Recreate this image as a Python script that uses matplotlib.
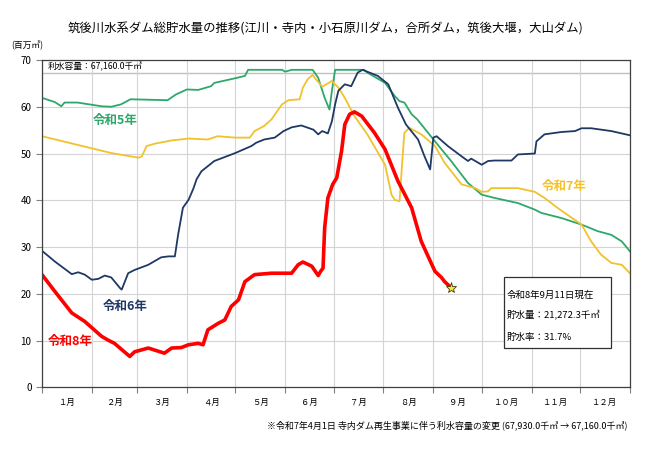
import matplotlib
matplotlib.use('Agg')
import matplotlib.pyplot as plt
from matplotlib.patches import Rectangle

plt.rcParams['font.family'] = ['Noto Sans CJK JP', 'DejaVu Sans']

# 日付は1月1日からの通算日
r5_days = [0, 8, 12, 14, 22, 37, 43, 49, 55, 78, 83, 90, 97, 105, 107, 120, 126, 128, 149, 151, 155, 168,
           171.5, 175.5, 178.5, 180, 182, 200, 202, 213, 219, 222, 225, 229.5, 233, 244, 254, 264.5, 273, 281,
           295.5, 306, 310, 322.5, 335, 345, 353.5, 360, 365]
r5_vals = [61.9, 61.0, 60.1, 60.9, 60.9, 60.1, 60.0, 60.5, 61.6, 61.4, 62.6, 63.7, 63.6, 64.4, 65.1, 66.1, 66.6,
           67.9, 67.9, 67.5, 67.9, 67.9, 66.2, 61.9, 59.4, 63.4, 67.9, 67.9, 67.3, 65.1, 62.3, 61.2, 60.9, 58.4,
           57.3, 52.6, 48.4, 43.7, 41.2, 40.5, 39.4, 38.0, 37.3, 36.2, 34.8, 33.4, 32.6, 31.2, 29.1]

r6_days = [0, 8, 18.5, 22.5, 26.5, 31, 35, 39, 43, 48.5, 49.5, 53.5, 57.5, 66, 74, 78.5, 82.5, 84.5, 87.5, 91,
           94, 96, 99, 107, 120, 130, 133, 138, 144.5, 150, 155, 161, 168.5, 171.5, 174, 177.5, 180, 182, 184,
           188, 192, 196, 199, 208.5, 215, 221, 226, 233.5, 237.5, 241, 243, 245, 252, 260.5, 264.5, 266.5,
           273, 277, 281, 291.5, 295.5, 306, 307, 312, 322.5, 331, 335, 341, 353.5, 365]
r6_vals = [29.2, 26.9, 24.2, 24.6, 24.1, 23.0, 23.2, 23.9, 23.5, 21.2, 20.9, 24.4, 25.1, 26.2, 27.8, 28.0, 28.0,
           32.6, 38.4, 40.1, 42.5, 44.5, 46.2, 48.4, 50.1, 51.6, 52.3, 53.0, 53.4, 54.8, 55.6, 56.0, 55.1, 54.1,
           54.8, 54.3, 56.9, 60.5, 63.4, 64.8, 64.4, 67.3, 67.9, 66.6, 64.8, 59.8, 56.2, 53.0, 49.4, 46.6, 53.4,
           53.7, 51.6, 49.4, 48.4, 48.9, 47.6, 48.4, 48.5, 48.5, 49.8, 50.0, 52.6, 54.1, 54.6, 54.8, 55.4, 55.4,
           54.8, 53.9]

r7_days = [0, 31, 43, 60, 62, 65, 70, 80.5, 91, 103, 109, 120, 129, 132, 138, 142.5, 149, 153, 160, 162, 165,
           168, 171, 174, 180, 184, 188, 194, 202, 213, 217, 219, 222, 224, 225, 228, 235.5, 244, 250, 260.5,
           269, 273, 277, 279, 295.5, 306, 312, 320, 335, 341, 347, 353.5, 360, 365]
r7_vals = [53.7, 51.1, 50.1, 49.1, 49.4, 51.6, 52.1, 52.8, 53.2, 53.0, 53.7, 53.4, 53.4, 54.8, 55.9, 57.3, 60.5,
           61.4, 61.6, 64.1, 65.9, 66.8, 65.5, 64.3, 65.5, 64.1, 61.9, 58.0, 54.1, 47.6, 41.2, 40.1, 39.8, 49.8,
           54.4, 55.5, 54.1, 51.6, 48.0, 43.4, 42.6, 41.8, 41.9, 42.6, 42.6, 41.8, 40.5, 38.4, 34.8, 31.2, 28.4,
           26.6, 26.2, 24.4]

r8_days = [0, 8, 18.5, 26.5, 37, 41, 45, 54.5, 57.5, 66, 76, 80.5, 86.5, 91, 97, 100, 103, 109.5, 113.5, 117.5,
           122, 126, 132, 142.5, 155, 159, 162, 167.5, 171.5, 173, 174.5, 175.5, 177.5, 180.5, 183, 186, 188,
           191, 194, 198.5, 206.5, 213, 221, 229.5, 235.5, 244, 248, 250, 254]
r8_vals = [24.1, 20.5, 15.9, 14.1, 10.9, 10.1, 9.4, 6.6, 7.6, 8.4, 7.3, 8.4, 8.5, 9.1, 9.4, 9.1, 12.3, 13.7,
           14.4, 17.3, 18.7, 22.6, 24.1, 24.4, 24.4, 26.2, 26.8, 25.9, 23.9, 24.8, 25.5, 34.1, 40.5, 43.4, 44.8,
           50.5, 56.2, 58.4, 58.9, 58.0, 54.4, 50.9, 44.1, 38.4, 31.2, 24.8, 23.5, 22.6, 21.3]

month_starts = [0, 31, 59, 90, 120, 151, 181, 212, 243, 273, 304, 334, 365]
month_labels = ['１月', '２月', '３月', '４月', '５月', '６月', '７月', '８月', '９月', '１０月', '１１月', '１２月']
capacity = 67.16

fig = plt.figure(figsize=(6.5, 4.75), dpi=100)
ax = fig.add_axes([0.0646, 0.1846, 0.9044, 0.6891])

ax.plot(r5_days, r5_vals, color='#2ea86a', lw=1.3)
ax.plot(r7_days, r7_vals, color='#f2c12e', lw=1.3)
ax.plot(r6_days, r6_vals, color='#1f3864', lw=1.3)
ax.plot(r8_days, r8_vals, color='#ff0000', lw=2.6)
ax.plot(r8_days[-1], r8_vals[-1], marker='*', ms=8, mfc='#f5e642', mec='#404000', mew=0.6)

ax.axhline(capacity, color='#c0c0c0', lw=1.0, zorder=0)
ax.text(3.5, 68.6, '利水容量：67,160.0千㎥', fontsize=6.3, va='center', ha='left')

ax.set_xlim(0, 365)
ax.set_ylim(0, 70)
ax.set_yticks(range(0, 71, 10))
ax.set_xticks(month_starts)
ax.set_xticklabels([])
mids = [(month_starts[i] + month_starts[i + 1]) / 2 for i in range(12)]
ax.set_xticks(mids, minor=True)
ax.set_xticklabels(month_labels, minor=True, fontsize=6)
ax.tick_params(axis='x', which='minor', length=0, pad=8)
ax.tick_params(axis='x', which='major', length=4, color='#808080')
ax.tick_params(axis='y', labelsize=7, length=4, color='#808080')
ax.grid(True, which='major', color='#d4d4d4', lw=0.8)
ax.set_axisbelow(True)
for s in ax.spines.values():
    s.set_color('#404040')
    s.set_linewidth(0.9)

ax.text(45.3, 57.0, '令和5年', color='#2ea86a', fontsize=9, fontweight='bold', ha='center', va='center')
ax.text(51.5, 17.2, '令和6年', color='#1f3864', fontsize=9, fontweight='bold', ha='center', va='center')
ax.text(17.4, 9.7, '令和8年', color='#ff0000', fontsize=9, fontweight='bold', ha='center', va='center')
ax.text(324.4, 43.0, '令和7年', color='#f2c12e', fontsize=9, fontweight='bold', ha='center', va='center')

ax.add_patch(Rectangle((287, 8.4), 66.6, 15.2, facecolor='white', edgecolor='#303030', lw=0.9, zorder=5))
ax.text(288.5, 19.8, '令和8年9月11日現在', fontsize=6.8, va='center', zorder=6)
ax.text(288.5, 15.3, '貯水量：21,272.3千㎥', fontsize=6.8, va='center', zorder=6)
ax.text(288.5, 10.7, '貯水率：31.7%', fontsize=6.8, va='center', zorder=6)

fig.text(0.5, 0.94, '筑後川水系ダム総貯水量の推移(江川・寺内・小石原川ダム，合所ダム，筑後大堰，大山ダム)',
         fontsize=8.9, ha='center', va='center')
fig.text(0.018, 0.905, '(百万㎥)', fontsize=6.3, ha='left', va='center')
fig.text(0.966, 0.105, '※令和7年4月1日 寺内ダム再生事業に伴う利水容量の変更 (67,930.0千㎥ → 67,160.0千㎥)',
         fontsize=6.5, ha='right', va='center')

fig.savefig('out.png', dpi=100)
